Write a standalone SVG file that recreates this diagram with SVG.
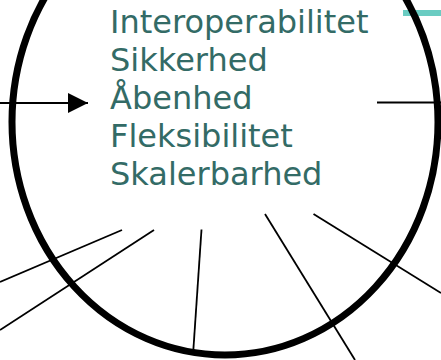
<svg xmlns="http://www.w3.org/2000/svg" width="441" height="360" viewBox="0 0 441 360">
<style>
.conn{stroke:#000;stroke-width:1.8;fill:none}
.lbl{font-family:"DejaVu Sans",Verdana,sans-serif;font-size:32px;fill:#336b66}
</style>
<defs>
<marker id="arr" markerWidth="20" markerHeight="20" refX="20" refY="10" orient="auto" markerUnits="userSpaceOnUse">
<path d="M0,0 L20,10 L0,20 Z" fill="#000"/>
</marker>
</defs>
<rect width="441" height="360" fill="#fff"/>
<g id="accent"><rect x="403" y="10" width="38" height="6" fill="#6accc2"/></g>
<g id="connectors">
<line class="conn" x1="0" y1="103" x2="88" y2="103" marker-end="url(#arr)"/>
<line class="conn" x1="377" y1="102.5" x2="441" y2="102.5"/>
<line class="conn" x1="122" y1="230" x2="0" y2="282"/>
<line class="conn" x1="154" y1="230" x2="0" y2="330"/>
<line class="conn" x1="201.5" y1="229.5" x2="193" y2="355"/>
<line class="conn" x1="265" y1="214" x2="355" y2="360"/>
<line class="conn" x1="313.5" y1="214" x2="441" y2="293"/>
</g>
<g id="circle">
<ellipse cx="225" cy="122" rx="213" ry="233" fill="none" stroke="#000" stroke-width="7"/>
</g>
<g id="labels">
<text class="lbl" x="110" y="32.5">Interoperabilitet</text>
<text class="lbl" x="110" y="70.5">Sikkerhed</text>
<text class="lbl" x="110" y="108.5">Åbenhed</text>
<text class="lbl" x="110" y="146.5">Fleksibilitet</text>
<text class="lbl" x="110" y="184.5">Skalerbarhed</text>
</g>
</svg>
